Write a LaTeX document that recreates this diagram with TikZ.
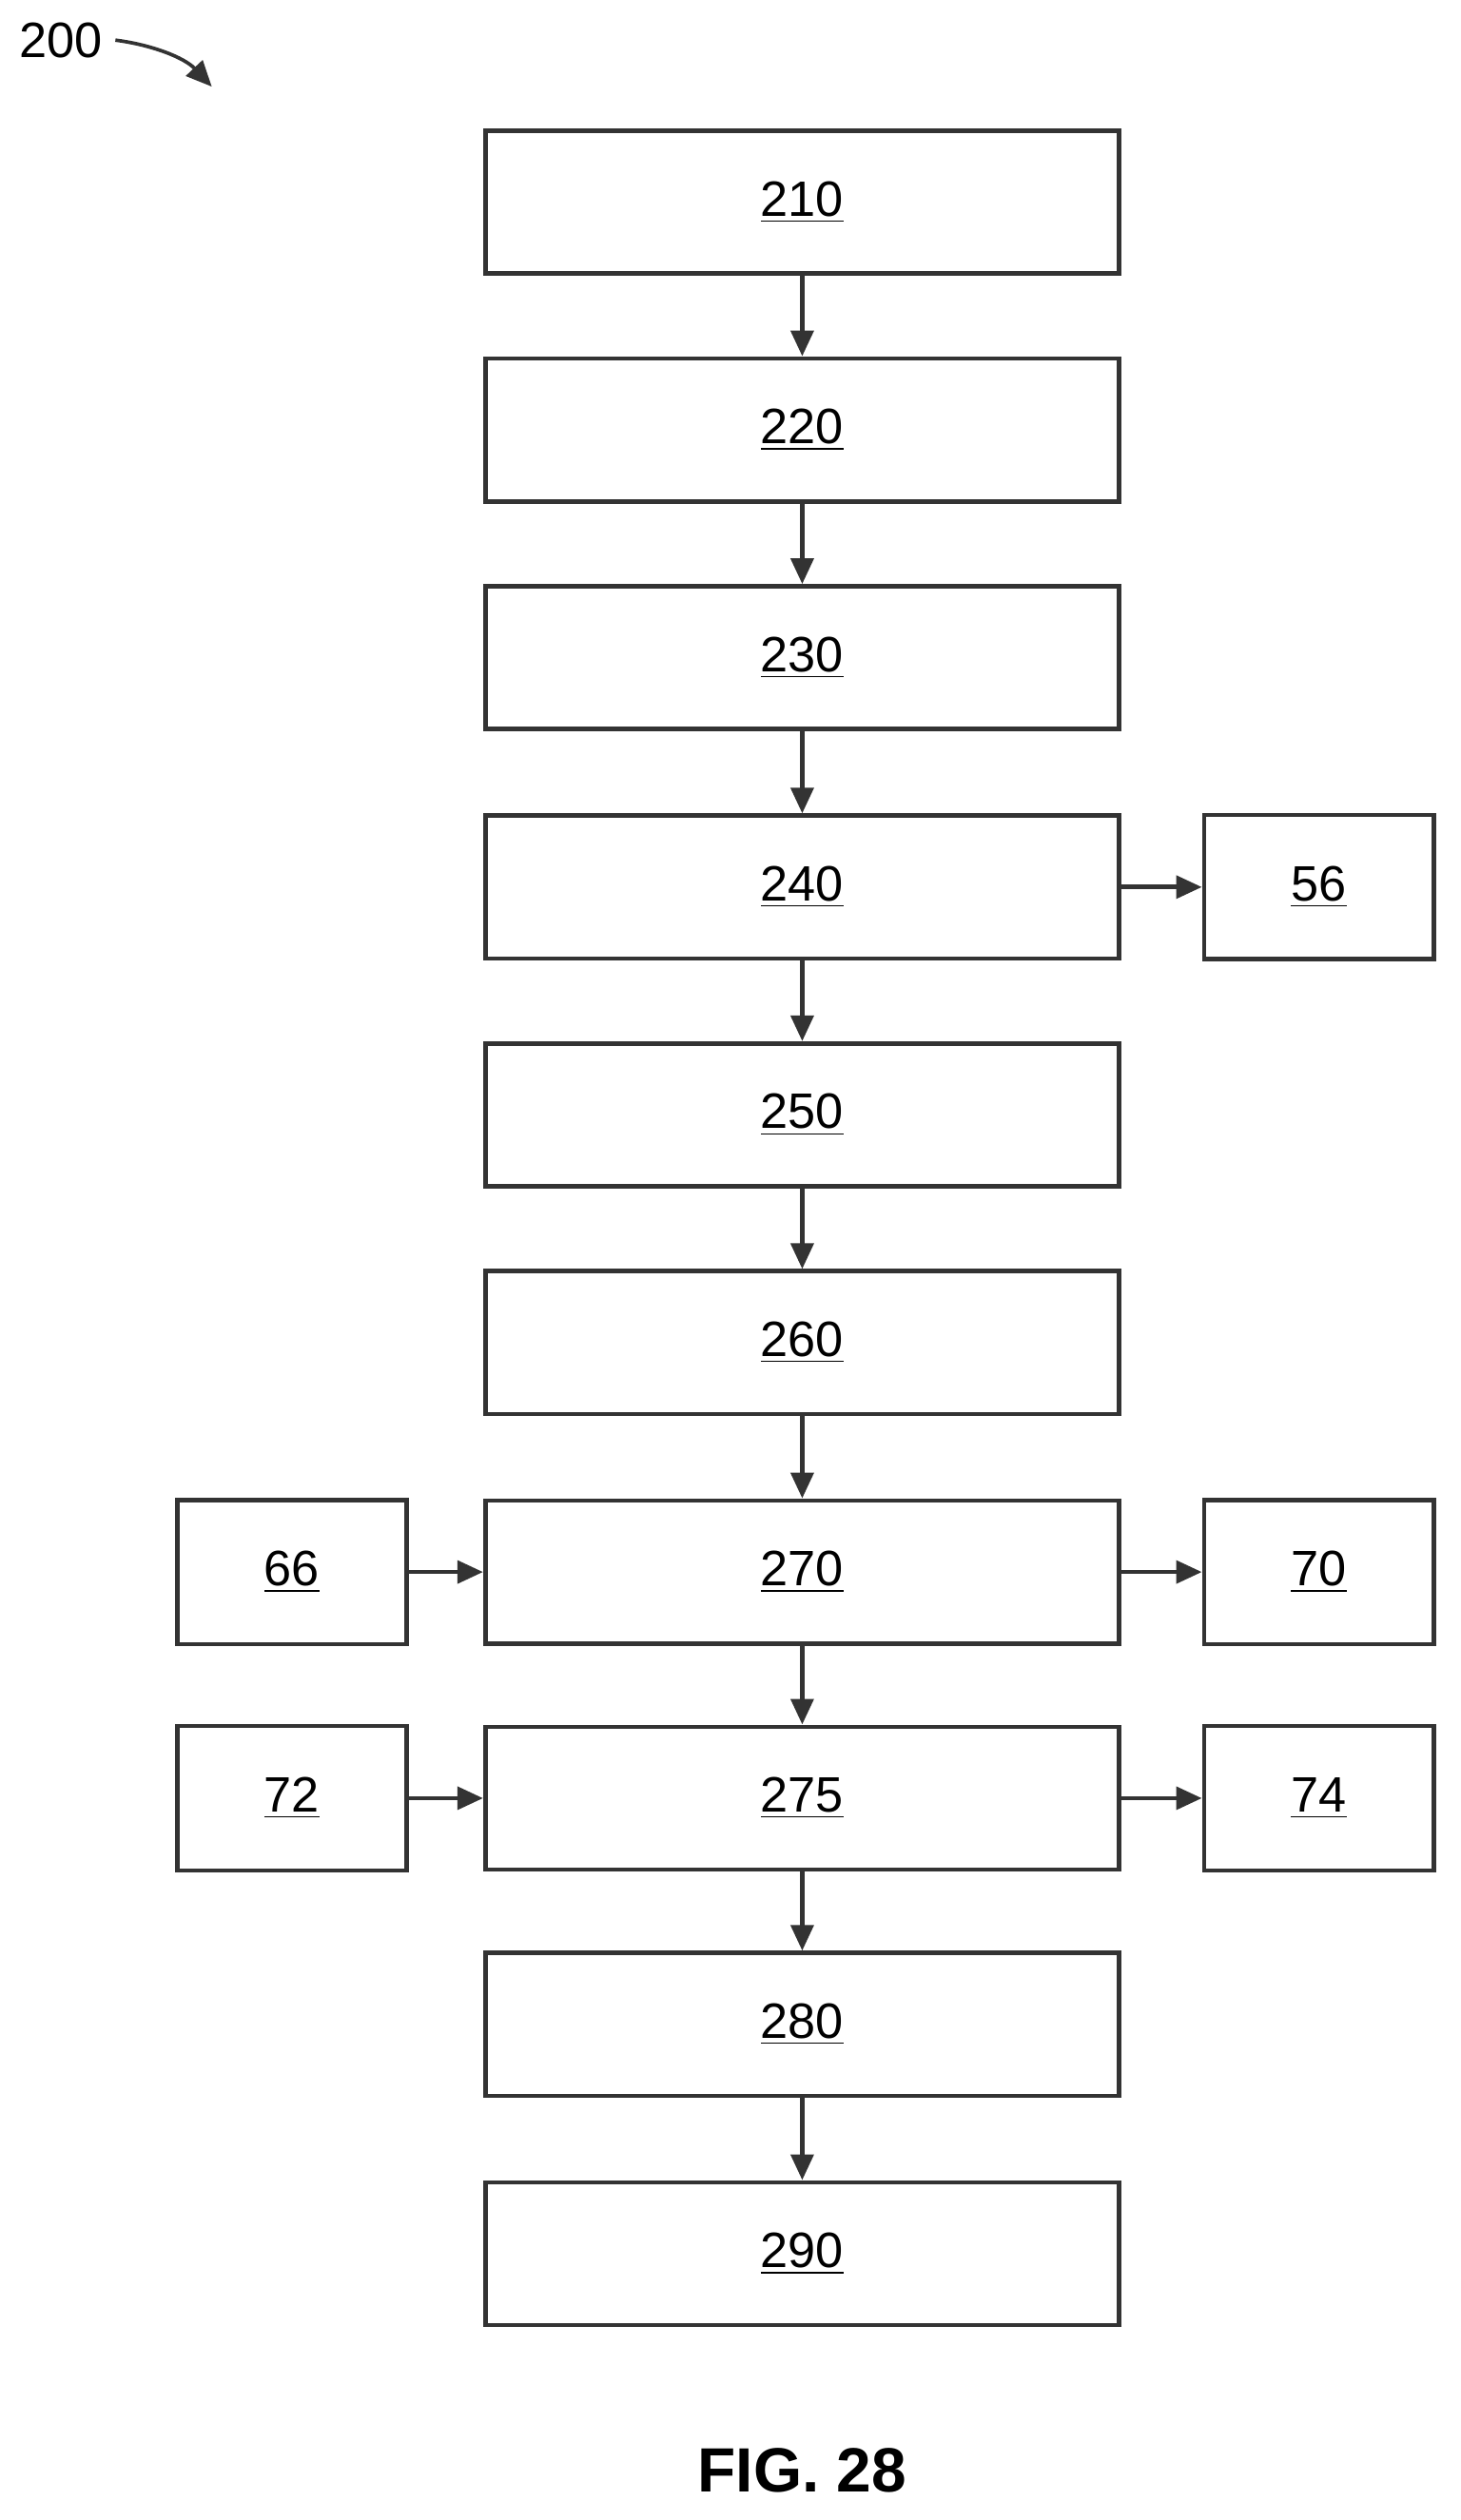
\documentclass[tikz,border=0pt]{standalone}
\usepackage{fontspec}
\setmainfont{Liberation Sans}
\usetikzlibrary{arrows.meta}
\begin{document}
\begin{tikzpicture}[x=0.5pt,y=-0.5pt,line width=1.4pt,draw=black!80,
    >={Triangle[length=8pt,width=7pt]}]
    \useasboundingbox (0,0) rectangle (910,1571);
    \begin{scope}[font=\fontsize{15.5}{18}\selectfont]
      \tikzstyle{every node}=[draw=black!80,line width=1.4pt,inner sep=0pt]
      \tikzstyle{stepbox}=[minimum width=197.5pt,minimum height=44.5pt]
      \tikzstyle{sidebox}=[minimum width=71.5pt,minimum height=45pt]
      \node[stepbox] (s210) at (500,126) {\underline{210}};
      \node[stepbox] (s220) at (500,268) {\underline{220}};
      \node[stepbox] (s230) at (500,410) {\underline{230}};
      \node[stepbox] (s240) at (500,553) {\underline{240}};
      \node[stepbox] (s250) at (500,695) {\underline{250}};
      \node[stepbox] (s260) at (500,837) {\underline{260}};
      \node[stepbox] (s270) at (500,980) {\underline{270}};
      \node[stepbox] (s275) at (500,1121) {\underline{275}};
      \node[stepbox] (s280) at (500,1262) {\underline{280}};
      \node[stepbox] (s290) at (500,1405) {\underline{290}};
      \node[sidebox] (b56) at (822,553) {\underline{56}};
      \node[sidebox] (b66) at (182,980) {\underline{66}};
      \node[sidebox] (b70) at (822,980) {\underline{70}};
      \node[sidebox] (b72) at (182,1121) {\underline{72}};
      \node[sidebox] (b74) at (822,1121) {\underline{74}};
    \end{scope}

    \node[font=\fontsize{15.5}{18}\selectfont] (ref) at (38,25) {200};
    \coordinate (refend) at (132,54);
    \draw[->,line width=1.1pt] (ref.east) .. controls (95,28) and (115,36) .. (refend);

    \foreach \a/\b in {s210/s220,s220/s230,s230/s240,s240/s250,s250/s260,s260/s270,s270/s275,s275/s280,s280/s290}
      \draw[->] (\a) -- (\b);
    \foreach \a/\b in {s240/b56,b66/s270,s270/b70,b72/s275,s275/b74}
      \draw[->] (\a) -- (\b);

    \node[font=\bfseries\fontsize{19.5}{22}\selectfont] (fig) at (500,1540) {FIG. 28};
  \end{tikzpicture}
\end{document}
